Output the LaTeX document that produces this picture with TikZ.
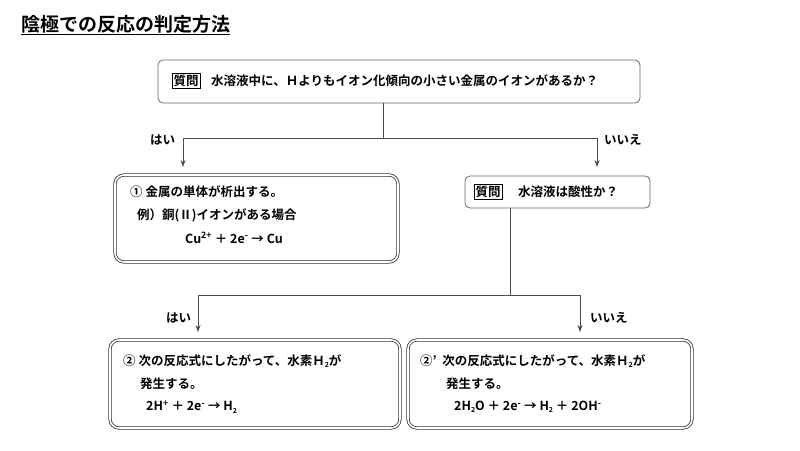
\documentclass[tikz,border=0pt]{standalone}
\usepackage{fontspec}
\setmainfont{Noto Sans CJK JP}[BoldFont={* Bold}]
\usetikzlibrary{arrows.meta}
\newcommand{\up}[1]{\textsuperscript{#1}}
\newcommand{\dn}[1]{\raisebox{-0.35ex}{\scriptsize #1}}
\begin{document}
\begin{tikzpicture}[x=1pt,y=-1pt,font=\bfseries\fontsize{12.5}{15}\selectfont]
        \tikzstyle{question} = [draw=gray!80!black, rounded corners=5pt, thick]
        \tikzstyle{answer} = [draw=black!80, double, double distance=1.6pt, rounded corners=9pt, thick]
        \tikzstyle{txt} = [anchor=west, inner sep=0pt]
        \tikzstyle{tag} = [draw, inner sep=1.5pt, anchor=west]
        \tikzstyle{flow} = [-{Stealth[length=7pt,width=5pt]}, gray!60!black, thick]
        \useasboundingbox (0,0) rectangle (800,450);

        % title
        \node (title) [txt, font=\bfseries\fontsize{19}{21}\selectfont] at (21,25) {\underline{陰極での反応の判定方法}};

        % first question
        \draw[question] (158,60) rectangle (640,103);
        \node (q1tag) [tag] at (172,81) {質問};
        \node (q1) [txt] at (211,81) {水溶液中に、Ｈよりもイオン化傾向の小さい金属のイオンがあるか？};
        \coordinate (q1out) at (383,103);
        \coordinate (q1mid) at (383,138);
        \coordinate (q1l) at (183,138);
        \coordinate (q1r) at (597,138);
        \coordinate (a1in) at (183,167);
        \coordinate (q2in) at (597,167);
        \draw[gray!60!black, thick] (q1out) -- (q1mid);
        \draw[flow] (q1mid) -- (q1l) -- (a1in);
        \draw[flow] (q1mid) -- (q1r) -- (q2in);
        \node (yes1) [txt] at (150,140) {はい};
        \node (no1) [txt] at (604,140) {いいえ};

        % answer 1
        \draw[answer] (115,175) rectangle (398,262);
        \node (a1l1) [txt] at (130,192) {①\ 金属の単体が析出する。};
        \node (a1l2) [txt] at (137,215) {例）銅(Ⅱ)イオンがある場合};
        \node (a1l3) [txt] at (185,238) {Cu\up{2+}\ ＋\ 2e\up{-}\ →\ Cu};

        % second question
        \draw[question] (465,176) rectangle (650,208);
        \node (q2tag) [tag] at (474,192) {質問};
        \node (q2) [txt] at (518,192) {水溶液は酸性か？};
        \coordinate (q2out) at (510,208);
        \coordinate (q2mid) at (510,295);
        \coordinate (q2l) at (198,295);
        \coordinate (q2r) at (580,295);
        \coordinate (a2in) at (198,332);
        \coordinate (a3in) at (580,332);
        \draw[gray!60!black, thick] (q2out) -- (q2mid);
        \draw[flow] (q2mid) -- (q2l) -- (a2in);
        \draw[flow] (q2mid) -- (q2r) -- (a3in);
        \node (yes2) [txt] at (166,318) {はい};
        \node (no2) [txt] at (590,318) {いいえ};

        % answer 2
        \draw[answer] (110,340) rectangle (400,428);
        \node (a2l1) [txt] at (123,361) {②\ 次の反応式にしたがって、水素Ｈ\dn{2}が};
        \node (a2l2) [txt] at (140,384) {発生する。};
        \node (a2l3) [txt] at (146,407) {2H\up{+}\ ＋\ 2e\up{-}\ →\ H\dn{2}};

        % answer 2'
        \draw[answer] (408,340) rectangle (692,428);
        \node (a3l1) [txt] at (420,361) {②'\ \ 次の反応式にしたがって、水素Ｈ\dn{2}が};
        \node (a3l2) [txt] at (446,384) {発生する。};
        \node (a3l3) [txt] at (454,407) {2H\dn{2}O\ ＋\ 2e\up{-}\ →\ H\dn{2}\ ＋\ 2OH\up{-}};
\end{tikzpicture}
\end{document}
